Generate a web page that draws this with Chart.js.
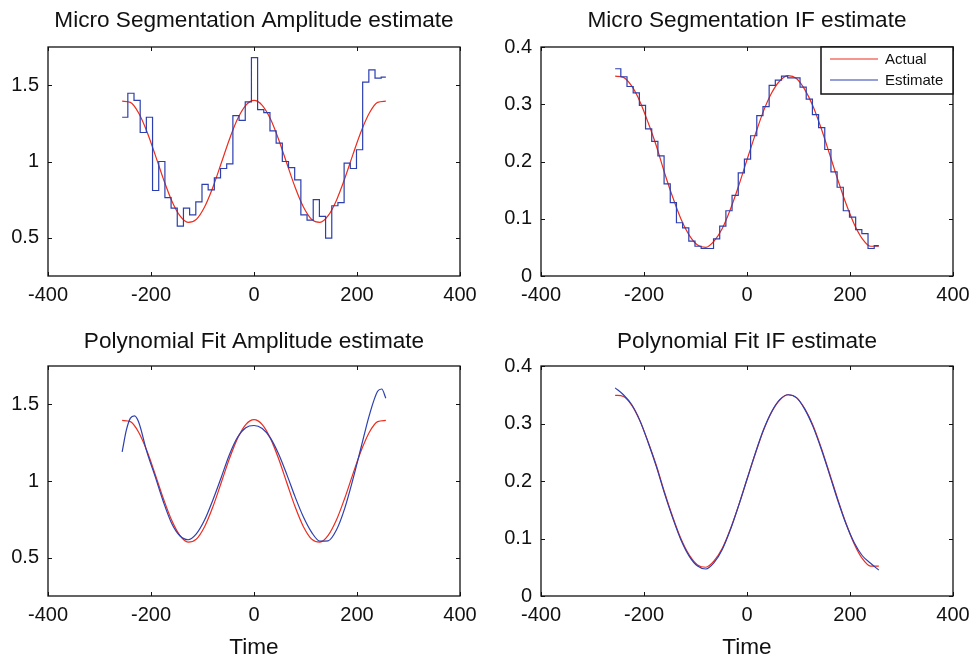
<!DOCTYPE html>
<html>
<head>
<meta charset="utf-8">
<title>Micro Segmentation / Polynomial Fit estimates</title>
<script src="https://cdn.jsdelivr.net/npm/chart.js@4.4.1/dist/chart.umd.min.js"></script>
<style>
body{margin:0;background:#fff;}
#wrap{position:relative;width:979px;height:659px;overflow:hidden;}
canvas{position:absolute;}
</style>
</head>
<body>
<div id="wrap">
  <canvas id="ampSegChart" width="490" height="320" style="left:0;top:0"></canvas>
  <canvas id="ifSegChart" width="489" height="320" style="left:490px;top:0"></canvas>
  <canvas id="ampPolyChart" width="490" height="349" style="left:0;top:310px"></canvas>
  <canvas id="ifPolyChart" width="489" height="349" style="left:490px;top:310px"></canvas>
</div>
<script>
// tick labels
const xTicks = [-400, -200, 0, 200, 400];
const ampTicks = [0.5, 1, 1.5];
const ifTicks = [0, 0.1, 0.2, 0.3, 0.4];

// actual (red) curves, sampled every 16 time units
const timeGrid = [-256,-240,-224,-208,-192,-176,-160,-144,-128,-112,-96,-80,-64,-48,-32,-16,0,
                  16,32,48,64,80,96,112,128,144,160,176,192,208,224,240,256];
const ampActual = [1.395,1.387,1.318,1.197,1.045,0.886,0.745,0.645,0.601,0.621,0.702,0.830,0.985,1.143,1.278,1.368,1.400,
                   1.368,1.278,1.143,0.985,0.830,0.702,0.621,0.601,0.645,0.745,0.886,1.045,1.197,1.318,1.387,1.395];
const ifActual = [0.349,0.347,0.332,0.305,0.268,0.227,0.180,0.137,0.099,0.071,0.054,0.050,0.061,0.083,0.117,0.158,0.203,
                  0.247,0.288,0.320,0.341,0.350,0.345,0.326,0.297,0.258,0.214,0.169,0.127,0.091,0.065,0.052,0.052];

// micro segmentation estimates (blue steps), one value per segment
const segStart = [-256,-245,-233,-221,-209,-197,-185,-173,-161,-149,-137,-125,-113,-101,-89,-77,-65,-53,-41,-29,-17,-5,
                  7,19,31,43,55,67,79,91,103,115,127,139,151,163,175,187,199,211,223,235,247];
const segEnd = 256;
const ampSeg = [1.29,1.447,1.40,1.19,1.29,0.81,1.0,0.763,0.695,0.577,0.695,0.65,0.735,0.85,0.814,0.893,0.954,0.985,1.30,1.27,1.39,1.68,
                1.34,1.32,1.20,1.12,1.0,0.96,0.88,0.65,0.616,0.75,0.64,0.498,0.71,0.73,0.99,0.954,1.077,1.52,1.60,1.546,1.553];
const ifSeg = [0.362,0.348,0.331,0.320,0.298,0.257,0.235,0.210,0.161,0.128,0.093,0.084,0.061,0.052,0.048,0.048,0.065,0.087,0.114,0.141,0.180,0.204,
               0.245,0.280,0.296,0.333,0.342,0.349,0.346,0.346,0.330,0.309,0.282,0.259,0.221,0.182,0.155,0.114,0.103,0.081,0.074,0.048,0.053];

// polynomial fit estimates (blue curves)
const ampPolyTime = [-256,-248,-240,-232,-224,-208,-192,-176,-160,-144,-128,-112,-96,-80,-64,-48,-32,-16,0,
                     16,32,48,64,80,96,112,128,144,160,176,192,208,224,240,248,256];
const ampPoly = [1.19,1.33,1.41,1.425,1.385,1.19,1.03,0.865,0.725,0.643,0.617,0.655,0.745,0.875,1.02,1.17,1.285,1.348,1.362,
                 1.342,1.28,1.175,1.04,0.895,0.765,0.665,0.608,0.610,0.680,0.820,1.01,1.22,1.43,1.585,1.60,1.54];
const ifPoly = [0.362,0.350,0.333,0.305,0.267,0.225,0.178,0.135,0.097,0.069,0.052,0.047,0.058,0.081,0.116,0.158,0.203,
                0.248,0.289,0.321,0.342,0.350,0.345,0.325,0.295,0.256,0.212,0.167,0.126,0.093,0.070,0.057,0.045];

const FONT = "'Liberation Sans', Arial, Helvetica, sans-serif";
const RED = '#ec2c1c';
const BLUE = '#2c3fb0';
const INK = '#111';

function pairs(xs, ys){
    return xs.map((x, i) => ({x: x, y: ys[i]}));
}

function stepPairs(starts, end, ys){
    const pts = pairs(starts, ys);
    pts.push({x: end, y: ys[ys.length - 1]});
    return pts;
}

function actualSet(data){
    return {label: 'Actual', data: data, borderColor: RED, borderWidth: 1.2, pointRadius: 0,
            cubicInterpolationMode: 'monotone', order: 2};
}

function estimateSet(data, stepped){
    return {label: 'Estimate', data: data, borderColor: BLUE, borderWidth: 1.2, pointRadius: 0,
            stepped: stepped, cubicInterpolationMode: 'monotone', order: 1};
}

// MATLAB style box with ticks pointing inwards, title centred over the plot area
const boxTicks = {
    id: 'boxTicks',
    afterDraw(chart, args, opts){
        const {ctx, chartArea: a, scales} = chart;
        ctx.save();
        ctx.strokeStyle = INK;
        ctx.lineWidth = 1;
        ctx.beginPath();
        scales.x.ticks.forEach(t => {
            const px = Math.round(scales.x.getPixelForValue(t.value)) + 0.5;
            ctx.moveTo(px, a.bottom); ctx.lineTo(px, a.bottom - 4);
            ctx.moveTo(px, a.top); ctx.lineTo(px, a.top + 4);
        });
        scales.y.ticks.forEach(t => {
            const py = Math.round(scales.y.getPixelForValue(t.value)) + 0.5;
            ctx.moveTo(a.left, py); ctx.lineTo(a.left + 4, py);
            ctx.moveTo(a.right, py); ctx.lineTo(a.right - 4, py);
        });
        ctx.stroke();
        ctx.lineWidth = 1.3;
        ctx.strokeRect(a.left, a.top, a.right - a.left, a.bottom - a.top);

        ctx.fillStyle = INK;
        ctx.font = '22.6px ' + FONT;
        ctx.textAlign = 'center';
        ctx.textBaseline = 'middle';
        ctx.fillText(opts.text, (a.left + a.right) / 2, opts.y);
        ctx.restore();
    }
};

// legend box in the upper right corner of the plot area
const boxLegend = {
    id: 'boxLegend',
    afterDraw(chart){
        const {ctx, chartArea: a} = chart;
        const w = 132, h = 47;
        const left = a.right - w, top = a.top;
        ctx.save();
        ctx.fillStyle = '#fff';
        ctx.fillRect(left, top, w, h);
        ctx.strokeStyle = INK;
        ctx.lineWidth = 1.5;
        ctx.strokeRect(left, top, w, h);
        ctx.font = '15px ' + FONT;
        ctx.textBaseline = 'middle';
        chart.data.datasets.forEach((ds, i) => {
            const y = top + 12 + i * 21;
            ctx.strokeStyle = ds.borderColor;
            ctx.lineWidth = 1.2;
            ctx.beginPath();
            ctx.moveTo(left + 9, y); ctx.lineTo(left + 57, y);
            ctx.stroke();
            ctx.fillStyle = INK;
            ctx.fillText(ds.label, left + 64, y + 1);
        });
        ctx.restore();
    }
};

function makePanel(id, cfg){
    const ctx = document.getElementById(id).getContext('2d');
    return new Chart(ctx, {
        type: 'line',
        data: {datasets: cfg.datasets},
        options: {
            responsive: false,
            animation: false,
            events: [],
            layout: {padding: {left: 0, right: cfg.padRight, top: cfg.padTop, bottom: 0}},
            plugins: {
                legend: {display: false},
                tooltip: {enabled: false},
                title: {display: false},
                boxTicks: {text: cfg.title, y: cfg.titleY}
            },
            scales: {
                x: {
                    type: 'linear', min: -400, max: 400,
                    grid: {display: false, drawTicks: false},
                    border: {display: false},
                    ticks: {color: INK, padding: 7, maxRotation: 0, autoSkip: false,
                            font: {family: FONT, size: 20}, callback: v => String(v)},
                    afterBuildTicks: s => { s.ticks = xTicks.map(v => ({value: v})); },
                    afterFit: s => { s.height = cfg.xHeight; },
                    title: {display: !!cfg.xTitle, text: cfg.xTitle || '', color: INK,
                            padding: {top: 0, bottom: -2}, font: {family: FONT, size: 22.6, weight: 'normal'}}
                },
                y: {
                    type: 'linear', min: cfg.yMin, max: cfg.yMax,
                    grid: {display: false, drawTicks: false},
                    border: {display: false},
                    ticks: {color: INK, padding: 9, font: {family: FONT, size: 20}, callback: v => String(v)},
                    afterBuildTicks: s => { s.ticks = cfg.yTicks.map(v => ({value: v})); },
                    afterFit: s => { s.width = cfg.yWidth; }
                }
            }
        },
        plugins: cfg.plugins
    });
}

makePanel('ampSegChart', {
    title: 'Micro Segmentation Amplitude estimate',
    datasets: [actualSet(pairs(timeGrid, ampActual)), estimateSet(stepPairs(segStart, segEnd, ampSeg), true)],
    yMin: 0.25, yMax: 1.75, yTicks: ampTicks, yWidth: 48, padRight: 30,
    padTop: 47, titleY: 21, xHeight: 44,
    plugins: [boxTicks]
});

makePanel('ifSegChart', {
    title: 'Micro Segmentation IF estimate',
    datasets: [actualSet(pairs(timeGrid, ifActual)), estimateSet(stepPairs(segStart, segEnd, ifSeg), true)],
    yMin: 0, yMax: 0.4, yTicks: ifTicks, yWidth: 51, padRight: 26,
    padTop: 47, titleY: 21, xHeight: 44,
    plugins: [boxTicks, boxLegend]
});

makePanel('ampPolyChart', {
    title: 'Polynomial Fit Amplitude estimate',
    datasets: [actualSet(pairs(timeGrid, ampActual)), estimateSet(pairs(ampPolyTime, ampPoly), false)],
    yMin: 0.25, yMax: 1.75, yTicks: ampTicks, yWidth: 48, padRight: 30,
    padTop: 56, titleY: 31.5, xHeight: 63, xTitle: 'Time',
    plugins: [boxTicks]
});

makePanel('ifPolyChart', {
    title: 'Polynomial Fit IF estimate',
    datasets: [actualSet(pairs(timeGrid, ifActual)), estimateSet(pairs(timeGrid, ifPoly), false)],
    yMin: 0, yMax: 0.4, yTicks: ifTicks, yWidth: 51, padRight: 26,
    padTop: 56, titleY: 31.5, xHeight: 63, xTitle: 'Time',
    plugins: [boxTicks]
});
</script>
</body>
</html>
